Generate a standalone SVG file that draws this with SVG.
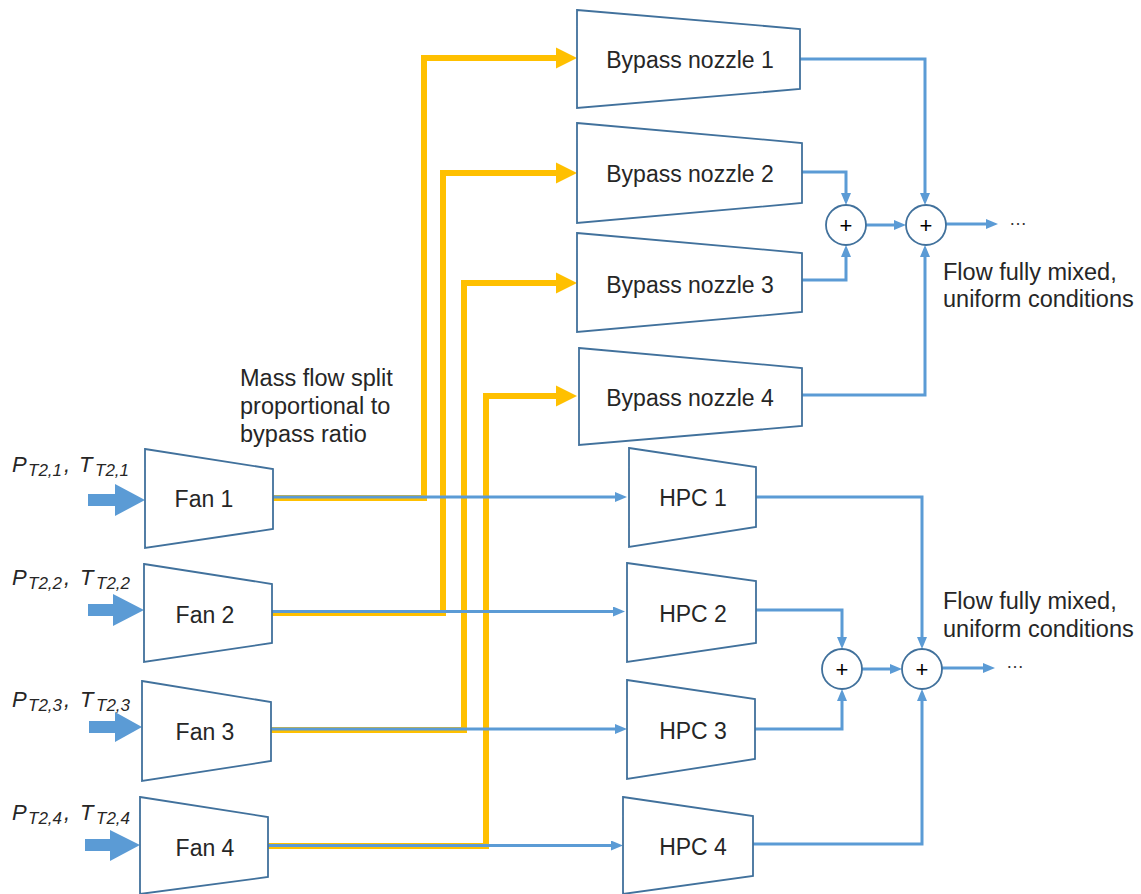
<svg xmlns="http://www.w3.org/2000/svg" width="1141" height="894" viewBox="0 0 1141 894">
<style>
  text { font-family: "Liberation Sans", Arial, sans-serif; fill: #262626; }
  .lbl { font-size: 23px; text-anchor: middle; }
  .note { font-size: 23.5px; }
  .inp { font-size: 22px; font-style: italic; }
  .sub { font-size: 17px; }
  .shape { fill: #ffffff; stroke: #41719C; stroke-width: 1.8; }
  .sum { fill: #ffffff; stroke: #41719C; stroke-width: 1.8; }
  .plus { font-size: 22px; text-anchor: middle; fill: #000; }
  .yel { fill: none; stroke: #FFC000; stroke-width: 6; stroke-linejoin: miter; }
  .blu { fill: none; stroke: #5B9BD5; stroke-width: 3; stroke-linejoin: miter; }
  .inarrow { fill: #5B9BD5; }
  .dots { font-size: 18px; fill: #333; }
</style>
<defs>
  <marker id="ya" viewBox="0 -11 22 22" refX="0" refY="0" markerWidth="22" markerHeight="22" markerUnits="userSpaceOnUse" orient="auto">
    <path d="M0,-10.5 L21,0 L0,10.5 z" fill="#FFC000"/>
  </marker>
  <marker id="ba" viewBox="0 -5 12 10" refX="0" refY="0" markerWidth="12" markerHeight="10" markerUnits="userSpaceOnUse" orient="auto">
    <path d="M0,-5 L12,0 L0,5 z" fill="#5B9BD5"/>
  </marker>
</defs>
<rect width="1141" height="894" fill="#ffffff"/>

<g id="connectors">
  <path class="yel" d="M273,498 H424 V58 H556" marker-end="url(#ya)"/>
  <path class="yel" d="M272,613 H443 V173 H556" marker-end="url(#ya)"/>
  <path class="yel" d="M271,730 H464 V283 H556" marker-end="url(#ya)"/>
  <path class="yel" d="M267,846 H486 V396 H556" marker-end="url(#ya)"/>

  <path class="blu" d="M273,497 H615" marker-end="url(#ba)"/>
  <path class="blu" d="M272,611.5 H613" marker-end="url(#ba)"/>
  <path class="blu" d="M271,729 H615" marker-end="url(#ba)"/>
  <path class="blu" d="M267,845.5 H611" marker-end="url(#ba)"/>

  <path class="blu" d="M800,59 H925 V193" marker-end="url(#ba)"/>
  <path class="blu" d="M802,172 H846 V193" marker-end="url(#ba)"/>
  <path class="blu" d="M802,280 H846 V257" marker-end="url(#ba)"/>
  <path class="blu" d="M802,395 H925 V257" marker-end="url(#ba)"/>
  <path class="blu" d="M866,225 H894" marker-end="url(#ba)"/>
  <path class="blu" d="M946,224 H986" marker-end="url(#ba)"/>

  <path class="blu" d="M756,497 H922 V637" marker-end="url(#ba)"/>
  <path class="blu" d="M756,610 H842 V637" marker-end="url(#ba)"/>
  <path class="blu" d="M755,729 H842 V701" marker-end="url(#ba)"/>
  <path class="blu" d="M753,844 H922 V701" marker-end="url(#ba)"/>
  <path class="blu" d="M862,669 H890" marker-end="url(#ba)"/>
  <path class="blu" d="M942,668 H983" marker-end="url(#ba)"/>

  <polygon class="inarrow" points="88,494 115,494 115,484 145,500 115,516 115,506 88,506"/>
  <polygon class="inarrow" points="88,604 113,604 113,594 144,610 113,626 113,616 88,616"/>
  <polygon class="inarrow" points="89,721 115,721 115,712 142,727 115,742 115,733 89,733"/>
  <polygon class="inarrow" points="85,839 110,839 110,830 140,845 110,861 110,851 85,851"/>
</g>

<g id="input1">
  <text class="inp" y="472"><tspan x="12">P</tspan><tspan class="sub" x="28" dy="4">T2,1</tspan><tspan x="64" dy="-4">,</tspan><tspan x="79">T</tspan><tspan class="sub" x="95" dy="4">T2,1</tspan></text>
</g>
<g id="input2">
  <text class="inp" y="585"><tspan x="12">P</tspan><tspan class="sub" x="28" dy="4">T2,2</tspan><tspan x="64" dy="-4">,</tspan><tspan x="80">T</tspan><tspan class="sub" x="96" dy="4">T2,2</tspan></text>
</g>
<g id="input3">
  <text class="inp" y="707"><tspan x="12">P</tspan><tspan class="sub" x="28" dy="4">T2,3</tspan><tspan x="64" dy="-4">,</tspan><tspan x="80">T</tspan><tspan class="sub" x="96" dy="4">T2,3</tspan></text>
</g>
<g id="input4">
  <text class="inp" y="820"><tspan x="12">P</tspan><tspan class="sub" x="28" dy="4">T2,4</tspan><tspan x="64" dy="-4">,</tspan><tspan x="80">T</tspan><tspan class="sub" x="96" dy="4">T2,4</tspan></text>
</g>

<g id="fan1"><polygon class="shape" points="145,449 273,469 273,529 145,548"/><text class="lbl" x="204" y="507">Fan 1</text></g>
<g id="fan2"><polygon class="shape" points="144,564 272,584 272,643 144,662"/><text class="lbl" x="205" y="623">Fan 2</text></g>
<g id="fan3"><polygon class="shape" points="142,681 271,702 271,761 142,781"/><text class="lbl" x="205" y="740">Fan 3</text></g>
<g id="fan4"><polygon class="shape" points="140,797 268,817 268,877 140,894"/><text class="lbl" x="205" y="856">Fan 4</text></g>

<g id="nozzle1"><polygon class="shape" points="577,10 800,29 800,89 577,108"/><text class="lbl" x="690" y="68">Bypass nozzle 1</text></g>
<g id="nozzle2"><polygon class="shape" points="577,123 802,143 802,203 577,223"/><text class="lbl" x="690" y="182">Bypass nozzle 2</text></g>
<g id="nozzle3"><polygon class="shape" points="577,233 802,253 802,312 577,332"/><text class="lbl" x="690" y="293">Bypass nozzle 3</text></g>
<g id="nozzle4"><polygon class="shape" points="579,348 802,368 802,426 579,445"/><text class="lbl" x="690" y="406">Bypass nozzle 4</text></g>

<g id="hpc1"><polygon class="shape" points="629,448 756,467 756,527 629,547"/><text class="lbl" x="693" y="506">HPC 1</text></g>
<g id="hpc2"><polygon class="shape" points="627,563 756,581 756,643 627,662"/><text class="lbl" x="693" y="622">HPC 2</text></g>
<g id="hpc3"><polygon class="shape" points="627,680 755,699 755,759 627,779"/><text class="lbl" x="693" y="739">HPC 3</text></g>
<g id="hpc4"><polygon class="shape" points="623,797 753,816 753,876 623,894"/><text class="lbl" x="693" y="855">HPC 4</text></g>

<g id="sum_top1"><circle class="sum" cx="846" cy="225" r="20"/><text class="plus" x="846" y="233">+</text></g>
<g id="sum_top2"><circle class="sum" cx="926" cy="225" r="20"/><text class="plus" x="926" y="233">+</text></g>
<g id="sum_bot1"><circle class="sum" cx="842" cy="669" r="20"/><text class="plus" x="842" y="677">+</text></g>
<g id="sum_bot2"><circle class="sum" cx="922" cy="669" r="20"/><text class="plus" x="922" y="677">+</text></g>

<g id="notes">
  <text class="note" x="240" y="386">Mass flow split</text>
  <text class="note" x="240" y="414">proportional to</text>
  <text class="note" x="240" y="442">bypass ratio</text>
  <text class="note" x="943" y="280">Flow fully mixed,</text>
  <text class="note" x="943" y="307">uniform conditions</text>
  <text class="note" x="943" y="609">Flow fully mixed,</text>
  <text class="note" x="943" y="637">uniform conditions</text>
  <text class="dots" x="1009" y="225">…</text>
  <text class="dots" x="1006" y="668">…</text>
</g>
</svg>
